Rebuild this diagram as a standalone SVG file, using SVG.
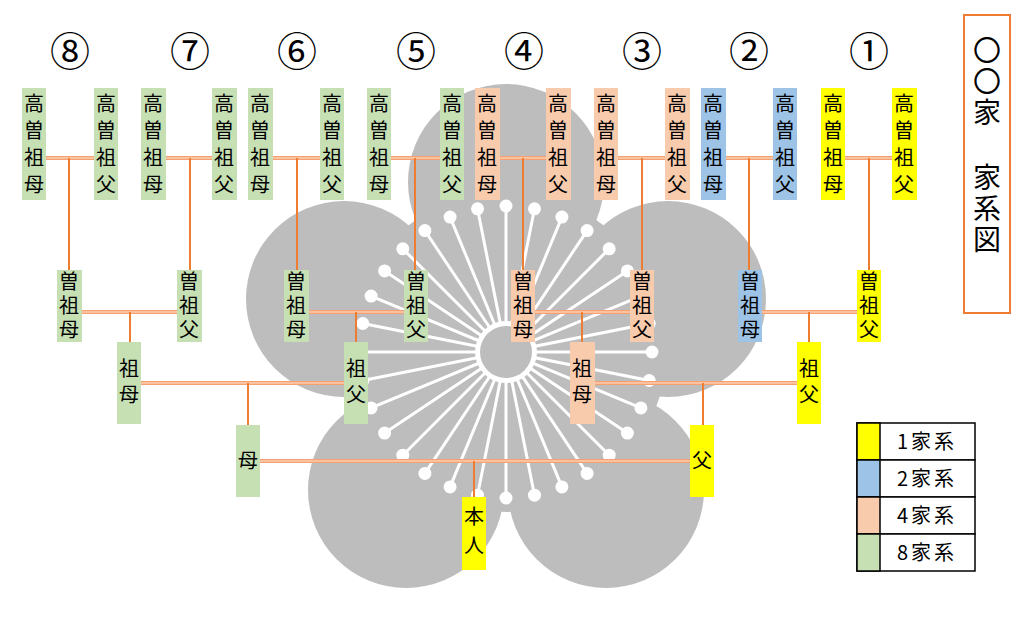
<svg xmlns="http://www.w3.org/2000/svg" width="1024" height="623" viewBox="0 0 1024 623">
<style>
.t{font-family:"Noto Sans CJK JP","Noto Sans CJK SC",sans-serif;font-size:20px;text-anchor:middle;fill:#000}
.n{font-family:"Noto Sans CJK JP","DejaVu Sans",sans-serif;font-size:40px;text-anchor:middle;fill:#000}
.g{fill:#c6e0b4}.o{fill:#f8cbad}.b{fill:#9dc3e6}.y{fill:#ffff00}
.h{stroke:#f4a070;stroke-width:4;fill:none}
.hi{stroke:#fde4d2;stroke-width:1.2;fill:none}
.v{stroke:#ed7d31;stroke-width:2;fill:none}
</style>
<rect width="1024" height="623" fill="#fff"/>
<g id="plum" fill="#bdbdbd">
<circle cx="506" cy="182" r="98"/><circle cx="668" cy="299" r="98"/><circle cx="606" cy="490" r="98"/><circle cx="406" cy="490" r="98"/><circle cx="344" cy="299" r="98"/><circle cx="506" cy="352" r="160"/>
</g>
<g fill="#fff" stroke="#fff" stroke-width="3">
<line x1="506" y1="352" x2="506.0" y2="206.0"/><circle cx="506.0" cy="206.0" r="5"/>
<line x1="506" y1="352" x2="534.5" y2="208.8"/><circle cx="534.5" cy="208.8" r="5"/>
<line x1="506" y1="352" x2="561.9" y2="217.1"/><circle cx="561.9" cy="217.1" r="5"/>
<line x1="506" y1="352" x2="587.1" y2="230.6"/><circle cx="587.1" cy="230.6" r="5"/>
<line x1="506" y1="352" x2="609.2" y2="248.8"/><circle cx="609.2" cy="248.8" r="5"/>
<line x1="506" y1="352" x2="627.4" y2="270.9"/><circle cx="627.4" cy="270.9" r="5"/>
<line x1="506" y1="352" x2="640.9" y2="296.1"/><circle cx="640.9" cy="296.1" r="5"/>
<line x1="506" y1="352" x2="649.2" y2="323.5"/><circle cx="649.2" cy="323.5" r="5"/>
<line x1="506" y1="352" x2="652.0" y2="352.0"/><circle cx="652.0" cy="352.0" r="5"/>
<line x1="506" y1="352" x2="649.2" y2="380.5"/><circle cx="649.2" cy="380.5" r="5"/>
<line x1="506" y1="352" x2="640.9" y2="407.9"/><circle cx="640.9" cy="407.9" r="5"/>
<line x1="506" y1="352" x2="627.4" y2="433.1"/><circle cx="627.4" cy="433.1" r="5"/>
<line x1="506" y1="352" x2="609.2" y2="455.2"/><circle cx="609.2" cy="455.2" r="5"/>
<line x1="506" y1="352" x2="587.1" y2="473.4"/><circle cx="587.1" cy="473.4" r="5"/>
<line x1="506" y1="352" x2="561.9" y2="486.9"/><circle cx="561.9" cy="486.9" r="5"/>
<line x1="506" y1="352" x2="534.5" y2="495.2"/><circle cx="534.5" cy="495.2" r="5"/>
<line x1="506" y1="352" x2="506.0" y2="498.0"/><circle cx="506.0" cy="498.0" r="5"/>
<line x1="506" y1="352" x2="477.5" y2="495.2"/><circle cx="477.5" cy="495.2" r="5"/>
<line x1="506" y1="352" x2="450.1" y2="486.9"/><circle cx="450.1" cy="486.9" r="5"/>
<line x1="506" y1="352" x2="424.9" y2="473.4"/><circle cx="424.9" cy="473.4" r="5"/>
<line x1="506" y1="352" x2="402.8" y2="455.2"/><circle cx="402.8" cy="455.2" r="5"/>
<line x1="506" y1="352" x2="384.6" y2="433.1"/><circle cx="384.6" cy="433.1" r="5"/>
<line x1="506" y1="352" x2="371.1" y2="407.9"/><circle cx="371.1" cy="407.9" r="5"/>
<line x1="506" y1="352" x2="362.8" y2="380.5"/><circle cx="362.8" cy="380.5" r="5"/>
<line x1="506" y1="352" x2="360.0" y2="352.0"/><circle cx="360.0" cy="352.0" r="5"/>
<line x1="506" y1="352" x2="362.8" y2="323.5"/><circle cx="362.8" cy="323.5" r="5"/>
<line x1="506" y1="352" x2="371.1" y2="296.1"/><circle cx="371.1" cy="296.1" r="5"/>
<line x1="506" y1="352" x2="384.6" y2="270.9"/><circle cx="384.6" cy="270.9" r="5"/>
<line x1="506" y1="352" x2="402.8" y2="248.8"/><circle cx="402.8" cy="248.8" r="5"/>
<line x1="506" y1="352" x2="424.9" y2="230.6"/><circle cx="424.9" cy="230.6" r="5"/>
<line x1="506" y1="352" x2="450.1" y2="217.1"/><circle cx="450.1" cy="217.1" r="5"/>
<line x1="506" y1="352" x2="477.5" y2="208.8"/><circle cx="477.5" cy="208.8" r="5"/>
</g>
<circle cx="506" cy="352" r="31" fill="#fff"/>
<circle cx="506" cy="352" r="26" fill="#bdbdbd"/>
<g id="numbers">
<text class="n" x="70" y="66">⑧</text><text class="n" x="190" y="66">⑦</text><text class="n" x="297" y="66">⑥</text><text class="n" x="416" y="66">⑤</text><text class="n" x="524" y="66">④</text><text class="n" x="642" y="66">③</text><text class="n" x="749" y="66">②</text><text class="n" x="869" y="66">①</text>
</g>
<g id="connectors">
<path class="h" d="M46 158H94M166 158H212M273 158H320M391 158H440M500 158H546M618 158H665M726 158H773M845 158H892M82 312H177M309 312H404M535 312H630M762 312H857M141 383H344M595 383H797M260 461H690"/>
<path class="hi" d="M46 158H94M166 158H212M273 158H320M391 158H440M500 158H546M618 158H665M726 158H773M845 158H892M82 312H177M309 312H404M535 312H630M762 312H857M141 383H344M595 383H797M260 461H690"/>
<path class="v" d="M69 158V270M190 158V270M297 158V270M415 158V270M523 158V270M642 158V270M749 158V270M869 158V270M130 312V342M356 312V342M582 312V342M809 312V342M248 383V425M703 383V425M474 461V497"/>
</g>
<g id="top">
<g id="n8m"><rect class="g" x="22" y="88" width="24" height="112"/><text class="t"><tspan x="34" y="111">高</tspan><tspan x="34" y="138">曽</tspan><tspan x="34" y="165">祖</tspan><tspan x="34" y="192">母</tspan></text></g>
<g id="n8f"><rect class="g" x="94" y="88" width="24" height="112"/><text class="t"><tspan x="106" y="111">高</tspan><tspan x="106" y="138">曽</tspan><tspan x="106" y="165">祖</tspan><tspan x="106" y="192">父</tspan></text></g>
<g id="n7m"><rect class="g" x="141" y="88" width="25" height="112"/><text class="t"><tspan x="153" y="111">高</tspan><tspan x="153" y="138">曽</tspan><tspan x="153" y="165">祖</tspan><tspan x="153" y="192">母</tspan></text></g>
<g id="n7f"><rect class="g" x="212" y="88" width="25" height="112"/><text class="t"><tspan x="224" y="111">高</tspan><tspan x="224" y="138">曽</tspan><tspan x="224" y="165">祖</tspan><tspan x="224" y="192">父</tspan></text></g>
<g id="n6m"><rect class="g" x="248" y="88" width="25" height="112"/><text class="t"><tspan x="260" y="111">高</tspan><tspan x="260" y="138">曽</tspan><tspan x="260" y="165">祖</tspan><tspan x="260" y="192">母</tspan></text></g>
<g id="n6f"><rect class="g" x="320" y="88" width="24" height="112"/><text class="t"><tspan x="332" y="111">高</tspan><tspan x="332" y="138">曽</tspan><tspan x="332" y="165">祖</tspan><tspan x="332" y="192">父</tspan></text></g>
<g id="n5m"><rect class="g" x="367" y="88" width="24" height="112"/><text class="t"><tspan x="379" y="111">高</tspan><tspan x="379" y="138">曽</tspan><tspan x="379" y="165">祖</tspan><tspan x="379" y="192">母</tspan></text></g>
<g id="n5f"><rect class="g" x="440" y="88" width="24" height="112"/><text class="t"><tspan x="452" y="111">高</tspan><tspan x="452" y="138">曽</tspan><tspan x="452" y="165">祖</tspan><tspan x="452" y="192">父</tspan></text></g>
<g id="n4m"><rect class="o" x="475" y="88" width="25" height="112"/><text class="t"><tspan x="487" y="111">高</tspan><tspan x="487" y="138">曽</tspan><tspan x="487" y="165">祖</tspan><tspan x="487" y="192">母</tspan></text></g>
<g id="n4f"><rect class="o" x="546" y="88" width="25" height="112"/><text class="t"><tspan x="558" y="111">高</tspan><tspan x="558" y="138">曽</tspan><tspan x="558" y="165">祖</tspan><tspan x="558" y="192">父</tspan></text></g>
<g id="n3m"><rect class="o" x="594" y="88" width="24" height="112"/><text class="t"><tspan x="606" y="111">高</tspan><tspan x="606" y="138">曽</tspan><tspan x="606" y="165">祖</tspan><tspan x="606" y="192">母</tspan></text></g>
<g id="n3f"><rect class="o" x="665" y="88" width="25" height="112"/><text class="t"><tspan x="677" y="111">高</tspan><tspan x="677" y="138">曽</tspan><tspan x="677" y="165">祖</tspan><tspan x="677" y="192">父</tspan></text></g>
<g id="n2m"><rect class="b" x="701" y="88" width="25" height="112"/><text class="t"><tspan x="713" y="111">高</tspan><tspan x="713" y="138">曽</tspan><tspan x="713" y="165">祖</tspan><tspan x="713" y="192">母</tspan></text></g>
<g id="n2f"><rect class="b" x="773" y="88" width="24" height="112"/><text class="t"><tspan x="785" y="111">高</tspan><tspan x="785" y="138">曽</tspan><tspan x="785" y="165">祖</tspan><tspan x="785" y="192">父</tspan></text></g>
<g id="n1m"><rect class="y" x="821" y="88" width="24" height="112"/><text class="t"><tspan x="833" y="111">高</tspan><tspan x="833" y="138">曽</tspan><tspan x="833" y="165">祖</tspan><tspan x="833" y="192">母</tspan></text></g>
<g id="n1f"><rect class="y" x="892" y="88" width="25" height="112"/><text class="t"><tspan x="904" y="111">高</tspan><tspan x="904" y="138">曽</tspan><tspan x="904" y="165">祖</tspan><tspan x="904" y="192">父</tspan></text></g>
</g>
<g id="mid">
<g id="s8"><rect class="g" x="57" y="270" width="25" height="72"/><text class="t"><tspan x="69" y="289">曽</tspan><tspan x="69" y="313">祖</tspan><tspan x="69" y="337">母</tspan></text></g>
<g id="s7"><rect class="g" x="177" y="270" width="25" height="72"/><text class="t"><tspan x="189" y="289">曽</tspan><tspan x="189" y="313">祖</tspan><tspan x="189" y="337">父</tspan></text></g>
<g id="s6"><rect class="g" x="284" y="270" width="25" height="72"/><text class="t"><tspan x="296" y="289">曽</tspan><tspan x="296" y="313">祖</tspan><tspan x="296" y="337">母</tspan></text></g>
<g id="s5"><rect class="g" x="404" y="270" width="24" height="72"/><text class="t"><tspan x="416" y="289">曽</tspan><tspan x="416" y="313">祖</tspan><tspan x="416" y="337">父</tspan></text></g>
<g id="s4"><rect class="o" x="511" y="270" width="24" height="72"/><text class="t"><tspan x="523" y="289">曽</tspan><tspan x="523" y="313">祖</tspan><tspan x="523" y="337">母</tspan></text></g>
<g id="s3"><rect class="o" x="630" y="270" width="24" height="72"/><text class="t"><tspan x="642" y="289">曽</tspan><tspan x="642" y="313">祖</tspan><tspan x="642" y="337">父</tspan></text></g>
<g id="s2"><rect class="b" x="738" y="270" width="24" height="72"/><text class="t"><tspan x="750" y="289">曽</tspan><tspan x="750" y="313">祖</tspan><tspan x="750" y="337">母</tspan></text></g>
<g id="s1"><rect class="y" x="857" y="270" width="24" height="72"/><text class="t"><tspan x="869" y="289">曽</tspan><tspan x="869" y="313">祖</tspan><tspan x="869" y="337">父</tspan></text></g>
</g>
<g id="grand">
<g id="g4"><rect class="g" x="117" y="342" width="24" height="82"/><text class="t"><tspan x="129" y="376">祖</tspan><tspan x="129" y="402">母</tspan></text></g>
<g id="g3"><rect class="g" x="344" y="342" width="24" height="82"/><text class="t"><tspan x="356" y="376">祖</tspan><tspan x="356" y="402">父</tspan></text></g>
<g id="g2"><rect class="o" x="570" y="342" width="25" height="82"/><text class="t"><tspan x="582" y="376">祖</tspan><tspan x="582" y="402">母</tspan></text></g>
<g id="g1"><rect class="y" x="797" y="342" width="24" height="82"/><text class="t"><tspan x="809" y="376">祖</tspan><tspan x="809" y="402">父</tspan></text></g>
</g>
<g id="mother"><rect class="g" x="236" y="425" width="24" height="72"/><text class="t" x="248" y="468">母</text></g>
<g id="father"><rect class="y" x="690" y="425" width="24" height="72"/><text class="t" x="702" y="468">父</text></g>
<g id="self"><rect class="y" x="462" y="497" width="24" height="73"/><text class="t"><tspan x="474" y="524">本</tspan><tspan x="474" y="553">人</tspan></text></g>
<g id="title">
<rect x="964" y="15" width="46" height="298" fill="#fff" stroke="#ed7d31" stroke-width="2"/>
<text class="t" style="font-size:28px"><tspan x="987" y="61">〇</tspan><tspan x="987" y="92">〇</tspan><tspan x="987" y="123">家</tspan><tspan x="987" y="188">家</tspan><tspan x="987" y="219">系</tspan><tspan x="987" y="250">図</tspan></text>
</g>
<g id="legend" stroke="#000" stroke-width="1.5">
<rect x="857" y="423" width="118" height="37" fill="#fff"/><rect x="857" y="423" width="23" height="37" fill="#ffff00"/>
<rect x="857" y="460" width="118" height="37" fill="#fff"/><rect x="857" y="460" width="23" height="37" fill="#9dc3e6"/>
<rect x="857" y="497" width="118" height="37" fill="#fff"/><rect x="857" y="497" width="23" height="37" fill="#f8cbad"/>
<rect x="857" y="534" width="118" height="37" fill="#fff"/><rect x="857" y="534" width="23" height="37" fill="#c6e0b4"/>
<g stroke="none" style="letter-spacing:3px">
<text class="t" x="927" y="449">1家系</text><text class="t" x="927" y="486">2家系</text><text class="t" x="927" y="523">4家系</text><text class="t" x="927" y="560">8家系</text>
</g>
</g>
</svg>
